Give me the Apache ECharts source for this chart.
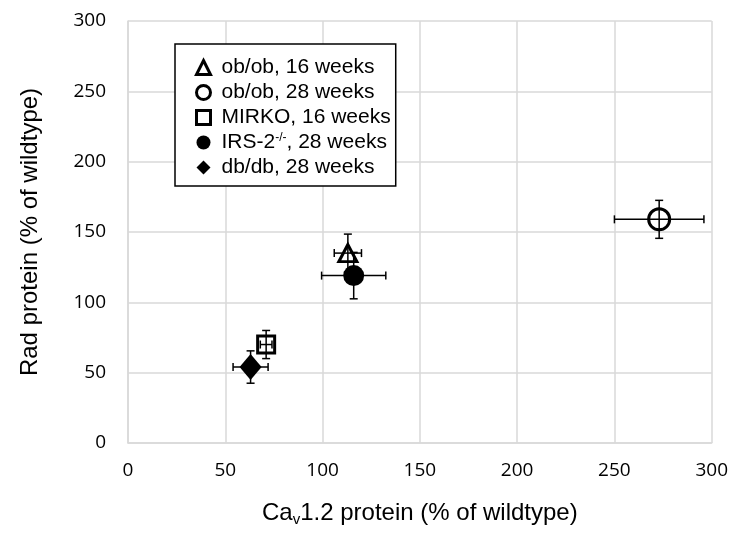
<!DOCTYPE html>
<html>
<head>
<meta charset="utf-8">
<script src="https://cdn.jsdelivr.net/npm/echarts@6/dist/echarts.min.js"></script>
<style>html,body{margin:0;padding:0;background:#fff}#c{width:731px;height:542px}</style>
</head>
<body>
<div id="c"></div>
<script>
// Data
const seriesNames = ['ob/ob, 16 weeks', 'ob/ob, 28 weeks', 'MIRKO, 16 weeks', 'IRS-2-/-, 28 weeks', 'db/db, 28 weeks'];
const cav12 = [113, 273, 71, 116, 63];        // x: Cav1.2 protein (% of wildtype)
const cav12Err = [7, 23, 3, 16.5, 9];         // x error
const rad = [135, 159, 70, 119, 54];          // y: Rad protein (% of wildtype)
const radErr = [13.5, 13.5, 10, 16.5, 11.5];  // y error
const axisTicks = [0, 50, 100, 150, 200, 250, 300];

const symbols = ['triangle', 'circle', 'rect', 'circle', 'diamond'];
const sizes = [[18, 17], 21, 17, 21, [22, 26]];
const hollow = [true, true, true, false, false];

const chart = echarts.init(document.getElementById('c'), null, {renderer: 'canvas'});

const styleFor = (i, bw) => hollow[i]
  ? {color: 'rgba(0,0,0,0)', borderColor: '#000', borderWidth: bw, opacity: 1}
  : {color: '#000', borderColor: '#000', borderWidth: 0, opacity: 1};

const scatterSeries = seriesNames.map((n, i) => ({
  name: n,
  type: 'scatter',
  symbol: symbols[i],
  symbolSize: sizes[i],
  z: 3,
  data: [[cav12[i], rad[i]]],
  itemStyle: styleFor(i, 3),
  emphasis: {disabled: true}
}));

const errData = cav12.map((x, i) => [x, rad[i], cav12Err[i], radErr[i]]);

const errSeries = {
  type: 'custom',
  name: 'err',
  z: 2,
  silent: true,
  data: errData,
  renderItem: function (params, api) {
    const x = api.value(0), y = api.value(1), ex = api.value(2), ey = api.value(3);
    const c = api.coord([x, y]);
    const l = api.coord([x - ex, y]), r = api.coord([x + ex, y]);
    const t = api.coord([x, y + ey]), b = api.coord([x, y - ey]);
    const cap = 4;
    const st = {stroke: '#000', lineWidth: 1.5};
    return {
      type: 'group',
      children: [
        {type: 'line', shape: {x1: l[0], y1: c[1], x2: r[0], y2: c[1]}, style: st},
        {type: 'line', shape: {x1: l[0], y1: c[1] - cap, x2: l[0], y2: c[1] + cap}, style: st},
        {type: 'line', shape: {x1: r[0], y1: c[1] - cap, x2: r[0], y2: c[1] + cap}, style: st},
        {type: 'line', shape: {x1: c[0], y1: t[1], x2: c[0], y2: b[1]}, style: st},
        {type: 'line', shape: {x1: c[0] - cap, y1: t[1], x2: c[0] + cap, y2: t[1]}, style: st},
        {type: 'line', shape: {x1: c[0] - cap, y1: b[1], x2: c[0] + cap, y2: b[1]}, style: st}
      ]
    };
  }
};

const tickLabel = {color: '#000', fontFamily: 'Open Sans', fontSize: 19};
const gridLine = {show: true, lineStyle: {color: '#d9d9d9', width: 1.5}};

chart.setOption({
  animation: false,
  backgroundColor: '#fff',
  grid: {left: 128, right: 18, top: 21, bottom: 99, containLabel: false},
  legend: {
    orient: 'vertical',
    left: 175,
    top: 44,
    data: seriesNames.map((n, i) => ({name: n, icon: symbols[i], itemStyle: styleFor(i, 3)})),
    backgroundColor: '#fff',
    borderColor: '#000',
    borderWidth: 1.5,
    borderRadius: 0,
    padding: [13, 5, 8, 20],
    itemWidth: 14,
    itemHeight: 14,
    itemGap: 4,
    selectedMode: false,
    textStyle: {
      color: '#000', fontFamily: 'Liberation Sans', fontSize: 21, lineHeight: 21,
      padding: [0, 0, 0, 6],
      rich: {
        a: {color: '#000', fontFamily: 'Liberation Sans', fontSize: 21, lineHeight: 21},
        sup: {color: '#000', fontFamily: 'Liberation Sans', fontSize: 12, lineHeight: 12, verticalAlign: 'top'}
      }
    },
    formatter: function (n) {
      if (n.indexOf('IRS-2-/-') === 0) {
        return '{a|IRS-2}{sup|-/-}{a|' + n.slice(8) + '}';
      }
      return '{a|' + n + '}';
    }
  },
  xAxis: {
    type: 'value', min: axisTicks[0], max: axisTicks[axisTicks.length - 1], interval: 50,
    name: '{a|Ca}{sub|v}{a|1.2 protein (% of wildtype)}',
    nameLocation: 'middle', nameGap: 56,
    nameTextStyle: {
      color: '#000', fontFamily: 'Liberation Sans', fontSize: 24,
      rich: {
        a: {color: '#000', fontFamily: 'Liberation Sans', fontSize: 24, lineHeight: 28},
        sub: {color: '#000', fontFamily: 'Liberation Sans', fontSize: 15, lineHeight: 9, verticalAlign: 'bottom'}
      }
    },
    axisLine: {show: true, lineStyle: {color: '#d9d9d9', width: 1.5}},
    axisTick: {show: false},
    axisLabel: Object.assign({margin: 18}, tickLabel),
    splitLine: gridLine
  },
  yAxis: {
    type: 'value', min: axisTicks[0], max: axisTicks[axisTicks.length - 1], interval: 50,
    name: 'Rad protein (% of wildtype)',
    nameLocation: 'middle', nameGap: 86,
    nameTextStyle: {color: '#000', fontFamily: 'Liberation Sans', fontSize: 24},
    axisLine: {show: true, lineStyle: {color: '#d9d9d9', width: 1.5}},
    axisTick: {show: false},
    axisLabel: Object.assign({margin: 22}, tickLabel),
    splitLine: gridLine
  },
  series: [errSeries].concat(scatterSeries)
});
</script>
</body>
</html>
